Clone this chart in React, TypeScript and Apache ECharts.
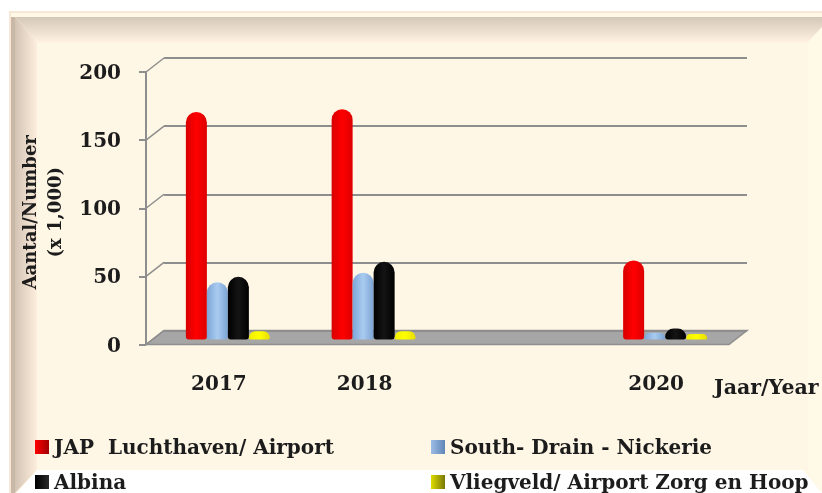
import React, { useEffect, useRef } from "react";
import * as echarts from "echarts";

const categories = ["2017", "2018", "", "2020"];
const seriesNames = ["JAP  Luchthaven/ Airport", "South- Drain - Nickerie", "Albina", "Vliegveld/ Airport Zorg en Hoop"];
const airport = [167, 169, null, 58];
const south = [42, 49, null, 5];
const albina = [46, 57, null, 8];
const zorg = [6, 6, null, 4];
const yTicks = [0, 50, 100, 150, 200];

const FONT = "'DejaVu Serif'";
const TXT = "#1c1c1c";
const GRAY = "#8e8e8e";

const hGrad = (a: string, b: string, c: string) => ({
  type: "linear", x: 0, y: 0, x2: 1, y2: 0,
  colorStops: [{ offset: 0, color: a }, { offset: 0.5, color: b }, { offset: 1, color: c }],
});
const vGrad = (a: string, b: string) => ({ type: "linear", x: 0, y: 0, x2: 0, y2: 1, colorStops: [{ offset: 0, color: a }, { offset: 1, color: b }] });
const lGrad = (a: string, b: string) => ({ type: "linear", x: 0, y: 0, x2: 1, y2: 0, colorStops: [{ offset: 0, color: a }, { offset: 1, color: b }] });

const fills = [
  hGrad("#d80000", "#ff0000", "#dc0000"),
  hGrad("#7da6d6", "#a9cbf0", "#7ba3d3"),
  hGrad("#000000", "#141414", "#000000"),
  hGrad("#f2ee00", "#ffff00", "#e6dc00"),
];
const icons = [
  lGrad("#ff0000", "#a00000"),
  lGrad("#9cbde4", "#5f86b8"),
  lGrad("#000000", "#2a2a2a"),
  lGrad("#e0dc00", "#77770a"),
];
const values = [airport, south, albina, zorg];
const legendPos = [[35, 437], [431, 437], [35, 472], [431, 472]];

const FRONT_L = 146, FRONT_T = 72, H = 272.5, W = 583, DX = 18, DY = 14;

function frame() {
  const R = 822, B = 493;
  return [
    { type: "rect", z: -20, shape: { x: 9, y: 11, width: R - 9, height: B - 11 }, style: { fill: "#f6e7d6" } },
    { type: "rect", z: -19, shape: { x: 11, y: 13, width: R - 11, height: B - 13 }, style: { fill: "#fff8e6" } },
    { type: "rect", z: -18, shape: { x: 11, y: 17, width: 4, height: B - 17 }, style: { fill: "#c9b8a6" } },
    { type: "polygon", z: -17, shape: { points: [[15, 17], [R, 17], [R - 14, 42], [37, 42], [37, 470], [15, B]] }, style: { fill: "#fff8e6" } },
    { type: "polygon", z: -16, shape: { points: [[15, 17], [R, 17], [R, 27], [R - 14, 42], [37, 42]] }, style: { fill: vGrad("#d4c8ba", "#fff0e0") } },
    { type: "polygon", z: -15, shape: { points: [[15, 17], [37, 42], [37, 470], [15, B]] }, style: { fill: lGrad("#d2c3b4", "#fdeedd") } },
    { type: "rect", z: -14, shape: { x: 37, y: 42, width: 771, height: 428 }, style: { fill: "#fff7e5" } },
    { type: "polygon", z: -13, shape: { points: [[808, 42], [R, 27], [R, B], [808, 470]] }, style: { fill: "#fffae8" } },
    { type: "polygon", z: -12, shape: { points: [[17, B], [37, 470], [803, 470], [R, B]] }, style: { fill: "#ffffff" } },
  ];
}

function depth() {
  const base = FRONT_T + H;
  const floor = {
    type: "polygon", z: -5,
    shape: { points: [[FRONT_L, base], [FRONT_L + DX, base - DY], [FRONT_L + W + DX, base - DY], [FRONT_L + W, base]] },
    style: { fill: "#a6a6a6", stroke: GRAY, lineWidth: 1.5 },
  };
  const links = yTicks.map((t) => {
    const y = base - (t / 200) * H;
    return { type: "line", z: 1, shape: { x1: FRONT_L, y1: y, x2: FRONT_L + DX, y2: y - DY }, style: { stroke: GRAY, lineWidth: 1.5 } };
  });
  return [floor, ...links];
}

export default function App() {
  const ref = useRef<HTMLDivElement>(null);
  useEffect(() => {
    const chart = echarts.init(ref.current!, null, { renderer: "svg" });
    const hiddenX = { type: "category", data: categories, show: false };
    const hiddenY = { type: "value", min: 0, max: 200, interval: 50, show: false };
    chart.setOption({
      animation: false,
      backgroundColor: "#ffffff",
      grid: [
        { left: FRONT_L, top: FRONT_T, width: W, height: H },
        { left: FRONT_L + DX, top: FRONT_T - DY, width: W, height: H },
        { left: FRONT_L + DX / 2, top: FRONT_T - DY + 9, width: W, height: H },
      ],
      xAxis: [
        {
          type: "category", gridIndex: 0, data: categories,
          axisLine: { show: false }, axisTick: { show: false },
          axisLabel: { margin: 28, fontFamily: FONT, fontWeight: "bold", fontSize: 20, color: TXT, interval: 0 },
        },
        { ...hiddenX, gridIndex: 1 },
        { ...hiddenX, gridIndex: 2 },
      ],
      yAxis: [
        {
          type: "value", gridIndex: 0, min: 0, max: 200, interval: 50,
          axisLine: { show: true, lineStyle: { color: GRAY, width: 2 } },
          axisTick: { show: true, length: 7, lineStyle: { color: GRAY, width: 2 } },
          splitLine: { show: false },
          axisLabel: { margin: 25, fontFamily: FONT, fontWeight: "bold", fontSize: 20, color: TXT },
          name: "Aantal/Number\n(x 1,000)",
          nameLocation: "middle", nameRotate: 90, nameGap: 79,
          nameTextStyle: { fontFamily: FONT, fontWeight: "bold", fontSize: 18, color: TXT, lineHeight: 25, padding: [0, 8, 0, 0] },
        },
        {
          ...hiddenY, show: true, gridIndex: 1,
          axisLine: { show: false }, axisTick: { show: false }, axisLabel: { show: false },
          splitLine: { show: true, lineStyle: { color: GRAY, width: 2 } },
        },
        { ...hiddenY, gridIndex: 2 },
      ],
      legend: seriesNames.map((n, i) => ({
        left: legendPos[i][0], top: legendPos[i][1], data: [{ name: n, icon: "rect", itemStyle: { color: icons[i] } }],
        itemWidth: 14, itemHeight: 14, itemGap: 0, padding: 0, selectedMode: false,
        textStyle: { fontFamily: FONT, fontWeight: "bold", fontSize: 20, color: TXT },
      })),
      graphic: [
        ...frame(),
        ...depth(),
        {
          type: "text", x: 714, y: 376, z: 5,
          style: { text: "Jaar/Year", fontFamily: FONT, fontWeight: "bold", fontSize: 20.5, fill: TXT },
        },
      ],
      series: seriesNames.map((n, i) => ({
        name: n, type: "bar", xAxisIndex: 2, yAxisIndex: 2,
        data: values[i], barWidth: 21, barGap: 0,
        itemStyle: { color: fills[i], borderRadius: [10.5, 10.5, 3, 3] },
      })),
    });
    return () => chart.dispose();
  }, []);
  return <div ref={ref} style={{ position: "absolute", left: 0, top: 0, width: 822, height: 493, filter: "blur(0.45px)" }} />;
}
